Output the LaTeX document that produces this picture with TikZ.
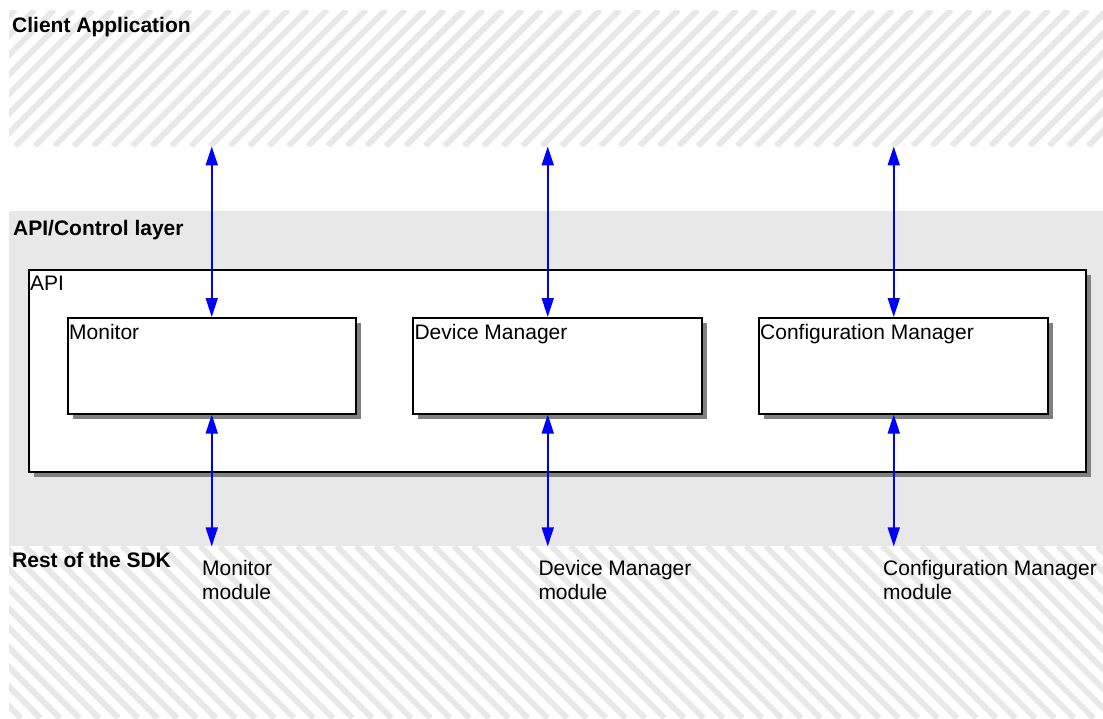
\documentclass[tikz,border=0pt]{standalone}
\usepackage{fontspec}
\setmainfont{Liberation Sans}
\usetikzlibrary{arrows.meta,shadows}

\definecolor{layergray}{RGB}{232,232,232}
\definecolor{stripegray}{RGB}{232,232,232}
\definecolor{shadowgray}{RGB}{128,128,128}
\definecolor{linkblue}{RGB}{0,0,255}

\begin{document}
\begin{tikzpicture}[x=1pt,y=-1pt,
  region/.style={rectangle, inner sep=0pt, anchor=north west},
  box/.style={rectangle, draw=black, line width=1.5pt, fill=white, inner sep=0pt,
    anchor=north west,
    drop shadow={shadow xshift=5pt, shadow yshift=-5pt, fill=shadowgray, opacity=1}},
  boxtitle/.style={anchor=north west, inner sep=0pt, font=\fontsize{21}{24}\selectfont},
  layertitle/.style={anchor=base west, inner sep=0pt, font=\bfseries\fontsize{21}{24}\selectfont},
  modlabel/.style={anchor=north west, inner sep=0pt, align=left, font=\fontsize{21}{24}\selectfont},
  link/.style={color=linkblue, draw=linkblue, line width=1.6pt,
    {Triangle[length=19pt,width=12pt]}-{Triangle[length=19pt,width=12pt]}},
  stripe/.style={draw=stripegray, line width=6pt}
]
\useasboundingbox (0,0) rectangle (1103,718);
\fill[white] (0,0) rectangle (1103,718);

% the three layers
\node[region, minimum width=1094pt, minimum height=136pt] (client) at (9,10) {};
\node[region, fill=layergray, minimum width=1094pt, minimum height=335pt] (ctrl) at (9,211) {};
\node[region, minimum width=1094pt, minimum height=172pt] (sdk) at (9,546) {};

% hatching of the client layer
\begin{scope}
  \clip (client.north west) rectangle (client.south east);
  \foreach \c in {-160,-140.5,...,1120}
    \draw[stripe] (\c,146) -- ++(136,-136);
\end{scope}

% hatching of the SDK layer
\begin{scope}
  \clip (sdk.north west) rectangle (sdk.south east);
  \foreach \c in {-190,-170.5,...,1120}
    \draw[stripe] (\c,546) -- ++(172,172);
\end{scope}

% API box and its managers
\node[box, minimum width=1057pt, minimum height=202pt] (api) at (28,269) {};
\node[box, minimum width=288pt, minimum height=96pt] (mon) at (67,317) {};
\node[box, minimum width=289pt, minimum height=96pt] (dev) at (412.3,317) {};
\node[box, minimum width=289pt, minimum height=96pt] (cfg) at (758,317) {};

\node[boxtitle] (api-t) at ([xshift=2pt,yshift=-7pt]api.north west) {API};
\node[boxtitle] (mon-t) at ([xshift=2pt,yshift=-7pt]mon.north west) {Monitor};
\node[boxtitle] (dev-t) at ([xshift=2pt,yshift=-7pt]dev.north west) {Device Manager};
\node[boxtitle] (cfg-t) at ([xshift=2pt,yshift=-7pt]cfg.north west) {Configuration Manager};

% layer titles
\node[layertitle] (client-t) at (12,32) {Client Application};
\node[layertitle] (ctrl-t) at (13,235) {API/Control layer};
\node[layertitle] (sdk-t) at (12,567) {Rest of the SDK};

% module labels
\node[modlabel] (mon-m) at (202,560.5) {Monitor\\module};
\node[modlabel] (dev-m) at (538.3,560.5) {Device Manager\\module};
\node[modlabel] (cfg-m) at (883,560.5) {Configuration Manager\\module};

% connector anchors on the boxes
\coordinate (mon-n) at (mon.north);
\coordinate (mon-s) at (mon.south);
\coordinate (dev-n) at ([xshift=-9.8pt]dev.north);
\coordinate (dev-s) at ([xshift=-9.8pt]dev.south);
\coordinate (cfg-n) at ([xshift=-9.5pt]cfg.north);
\coordinate (cfg-s) at ([xshift=-9.5pt]cfg.south);

% links to the client application
\draw[link] (mon-n |- client.south) -- (mon-n);
\draw[link] (dev-n |- client.south) -- (dev-n);
\draw[link] (cfg-n |- client.south) -- (cfg-n);

% links to the rest of the SDK
\draw[link] (mon-s) -- (mon-s |- ctrl.south);
\draw[link] (dev-s) -- (dev-s |- ctrl.south);
\draw[link] (cfg-s) -- (cfg-s |- ctrl.south);
\end{tikzpicture}
\end{document}
